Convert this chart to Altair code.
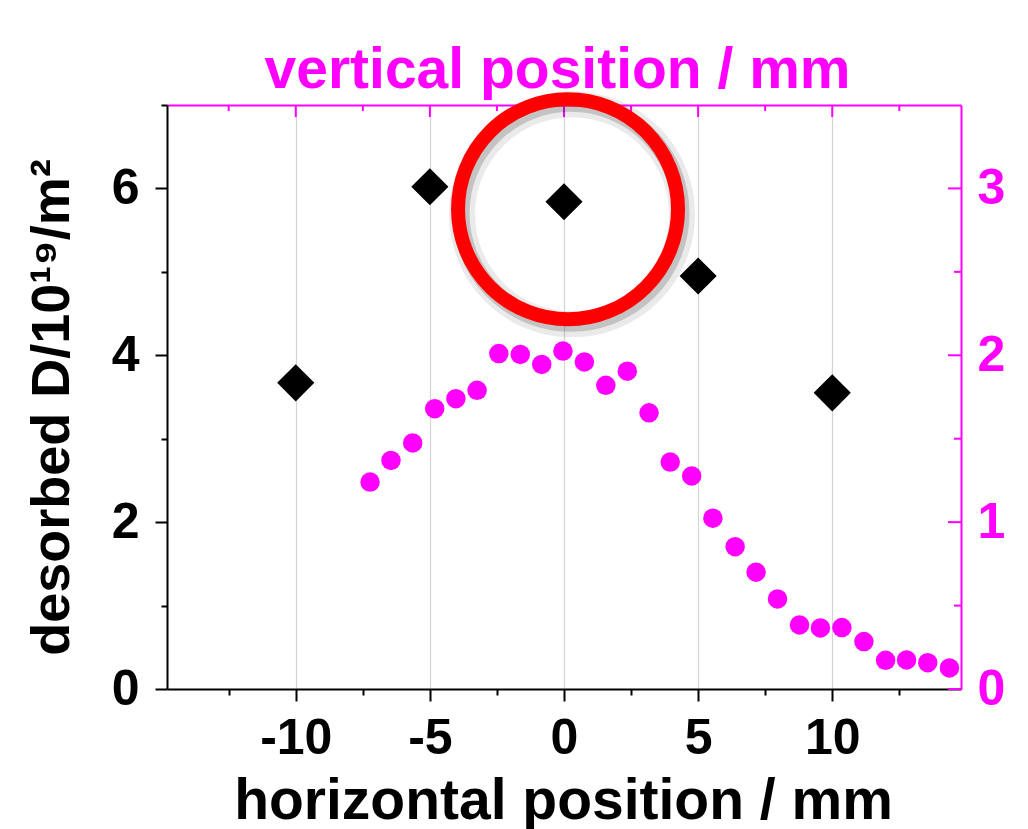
import altair as alt
import pandas as pd

# ---- data ----
# black diamonds: desorbed D (left axis) vs horizontal position
diamond_x = [-10, -5, 0, 5, 10]
diamond_y = [3.67, 6.02, 5.84, 4.95, 3.55]

# magenta dots: profile vs vertical position (right axis)
dot_x = [-7.23, -6.45, -5.64, -4.82, -4.03, -3.24, -2.43, -1.63, -0.83, -0.04,
         0.76, 1.56, 2.36, 3.17, 3.96, 4.76, 5.55, 6.38, 7.16, 7.96,
         8.78, 9.56, 10.36, 11.18, 11.99, 12.77, 13.56, 14.37]
dot_y = [1.24, 1.37, 1.475, 1.68, 1.74, 1.79, 2.01, 2.005, 1.945, 2.025,
         1.96, 1.82, 1.905, 1.655, 1.36, 1.277, 1.024, 0.853, 0.70, 0.54,
         0.384, 0.366, 0.368, 0.284, 0.172, 0.174, 0.158, 0.126]

# red ring annotation (centre, in horizontal position / left-axis units)
ring_x = [0.15]
ring_y = [5.75]

# axes
x_domain = [-14.8, 14.8]
x_major = [-10, -5, 0, 5, 10]
x_minor = [-12.5, -7.5, -2.5, 2.5, 7.5, 12.5]
yl_domain = [0, 7]
yl_ticks = [0, 1, 2, 3, 4, 5, 6, 7]
yr_domain = [0, 3.5]
yr_major = [0, 1, 2, 3]
yr_minor = [0.5, 1.5, 2.5]

x_title = "horizontal position / mm"
top_title = "vertical position / mm"
yl_title = "desorbed D/10\u00b9\u2079/m\u00b2"

W, H = 794, 584
MAG = "#ff00ff"
FONT = "Liberation Sans"
LBL = 50

xs = alt.Scale(domain=x_domain, nice=False, zero=False)
yls = alt.Scale(domain=yl_domain, nice=False, zero=False)
yrs = alt.Scale(domain=yr_domain, nice=False, zero=False)

diam_df = pd.DataFrame({"x": diamond_x, "y": diamond_y})
dot_df = pd.DataFrame({"x": dot_x, "y": dot_y})
ring_df = pd.DataFrame({"x": ring_x, "y": ring_y})

bottom_axis = alt.Axis(
    orient="bottom",
    values=sorted(x_major + x_minor),
    labelExpr="datum.value % 5 === 0 ? toString(datum.value) : ''",
    tickSize={"condition": {"test": "datum.value % 5 === 0", "value": 12}, "value": 6},
    gridOpacity={"condition": {"test": "datum.value % 5 === 0", "value": 1}, "value": 0},
    grid=True, gridColor="#d4d4d4", gridWidth=1.2,
    domainColor="black", domainWidth=2, tickColor="black", tickWidth=2,
    labelFont=FONT, labelFontWeight="bold", labelFontSize=LBL, labelColor="black",
    labelPadding=12, labelFlush=False,
    title=x_title, titleFont=FONT, titleFontWeight="bold", titleFontSize=57,
    titleColor="black", titleBaseline="alphabetic", titleAlign="center",
    titleX=W / 2 - 1, titleY=129,
)

left_axis = alt.Axis(
    orient="left",
    values=yl_ticks,
    labelExpr="datum.value % 2 === 0 ? toString(datum.value) : ''",
    tickSize={"condition": {"test": "datum.value % 2 === 0", "value": 12}, "value": 6},
    grid=False,
    domainColor="black", domainWidth=2, tickColor="black", tickWidth=2,
    labelFont=FONT, labelFontWeight="bold", labelFontSize=LBL, labelColor="black",
    labelPadding=16, labelFlush=False,
    title=yl_title, titleFont=FONT, titleFontWeight="bold", titleFontSize=54,
    titleColor="black", titleBaseline="alphabetic", titleAlign="center",
    titleAngle=270, titleX=-99, titleY=302,
)

top_axis = alt.Axis(
    orient="top", ticks=False, labels=False, grid=False,
    domainColor=MAG, domainWidth=2,
    title=top_title, titleFont=FONT, titleFontWeight="bold", titleFontSize=57,
    titleColor=MAG, titleBaseline="alphabetic", titleAlign="center",
    titleX=W / 2 - 7, titleY=-18,
)

right_axis = alt.Axis(
    orient="right", values=yr_major, ticks=False, grid=False,
    domainColor=MAG, domainWidth=2,
    labelFont=FONT, labelFontWeight="bold", labelFontSize=LBL, labelColor=MAG,
    labelPadding=16, labelFlush=False, labelExpr="toString(datum.value)",
    title=None,
)

diamonds = alt.Chart(diam_df).mark_point(
    shape="diamond", filled=True, color="black", size=1380, opacity=1
).encode(
    x=alt.X("x:Q", scale=xs, axis=bottom_axis),
    y=alt.Y("y:Q", scale=yls, axis=left_axis),
)

dots = alt.Chart(dot_df).mark_circle(color=MAG, size=380, opacity=1).encode(
    x=alt.X("x:Q", scale=xs, axis=top_axis),
    y=alt.Y("y:Q", scale=yrs, axis=right_axis),
)

# inward magenta ticks on top and right axes
top_major = alt.Chart(pd.DataFrame({"v": x_major})).mark_rule(color=MAG, strokeWidth=2).encode(
    x=alt.X("v:Q", scale=xs, axis=None), y=alt.value(0), y2=alt.value(12))
top_minor = alt.Chart(pd.DataFrame({"v": x_minor})).mark_rule(color=MAG, strokeWidth=2).encode(
    x=alt.X("v:Q", scale=xs, axis=None), y=alt.value(0), y2=alt.value(6))
right_major = alt.Chart(pd.DataFrame({"v": yr_major})).mark_rule(color=MAG, strokeWidth=2).encode(
    y=alt.Y("v:Q", scale=yrs, axis=None), x=alt.value(W - 13), x2=alt.value(W))
right_minor = alt.Chart(pd.DataFrame({"v": yr_minor})).mark_rule(color=MAG, strokeWidth=2).encode(
    y=alt.Y("v:Q", scale=yrs, axis=None), x=alt.value(W - 7), x2=alt.value(W))

ring_shadow1 = alt.Chart(ring_df).mark_point(
    shape="circle", filled=False, color="#000000", size=48400, strokeWidth=26, opacity=0.08
).encode(x=alt.X("x:Q", scale=xs, axis=None), y=alt.Y("y:Q", scale=yls, axis=None),
         xOffset=alt.value(4), yOffset=alt.value(5))
ring_shadow2 = alt.Chart(ring_df).mark_point(
    shape="circle", filled=False, color="#000000", size=48400, strokeWidth=17, opacity=0.16
).encode(x=alt.X("x:Q", scale=xs, axis=None), y=alt.Y("y:Q", scale=yls, axis=None),
         xOffset=alt.value(3), yOffset=alt.value(4))
ring = alt.Chart(ring_df).mark_point(
    shape="circle", filled=False, color="#ff0000", size=48400, strokeWidth=14, opacity=1
).encode(x=alt.X("x:Q", scale=xs, axis=None), y=alt.Y("y:Q", scale=yls, axis=None))

chart = alt.layer(
    diamonds, dots, top_major, top_minor, right_major, right_minor,
    ring_shadow1, ring_shadow2, ring,
).resolve_scale(y="independent").resolve_axis(x="independent", y="independent").properties(
    width=W, height=H,
    autosize=alt.AutoSizeParams(type="none"),
    padding={"left": 167, "top": 105, "right": 67, "bottom": 140},
    background="white",
).configure_view(stroke=None)

chart.save("out.html", embed_options={"renderer": "svg", "actions": False})
